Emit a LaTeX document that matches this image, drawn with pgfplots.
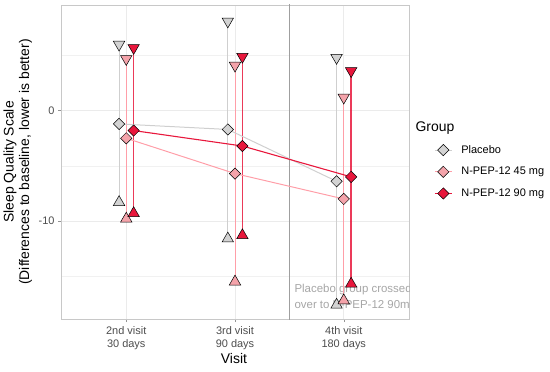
\documentclass[border=0pt]{standalone}
\usepackage{pgfplots}
\pgfplotsset{compat=1.18}
\usepackage{fontspec}
\setmainfont{Liberation Sans}
\definecolor{cpl}{HTML}{D3D3D3}
\definecolor{cplline}{HTML}{CFCFCF}
\definecolor{c45}{HTML}{F4A3AA}
\definecolor{c45line}{HTML}{FF9EA8}
\definecolor{c90}{HTML}{E8173C}
\definecolor{gridc}{HTML}{EBEBEB}
\definecolor{tickc}{HTML}{4D4D4D}
\definecolor{framec}{HTML}{C8C8C8}
\begin{document}
\begin{tikzpicture}[x=1bp,y=1bp]
\path[use as bounding box] (0,0) rectangle (550,371);
\begin{axis}[
  at={(61bp,52bp)}, anchor=south west,
  width=348bp, height=314bp, scale only axis,
  xmin=0.4, xmax=3.6, ymin=-18.88, ymax=9.58,
  xtick={1,2,3},
  xticklabels={{2nd visit\\30 days},{3rd visit\\90 days},{4th visit\\180 days}},
  ytick={-10,0}, yticklabels={{\mbox{-10}},{\mbox{0}}}, minor ytick={-15,-5,5},
  xticklabel style={align=center, text=tickc, font=\fontsize{11}{12.5}\selectfont, yshift=-1.5bp},
  yticklabel style={text=tickc, font=\fontsize{11}{12.5}\selectfont},
  grid=both,
  major grid style={gridc, line width=0.6bp},
  minor grid style={gridc!70, line width=0.4bp},
  axis line style={framec, line width=0.8bp},
  tick align=outside, tick pos=left,
  major tick length=3bp, minor tick length=0pt,
  tick style={tickc!60, line width=0.5bp},
  xlabel={Visit},
  xlabel style={at={(axis description cs:0.497,-0.127)}, anchor=center, font=\fontsize{14}{16}\selectfont},
  ylabel={Sleep Quality Scale\\(Differences to baseline, lower is better)},
  ylabel style={at={(axis description cs:-0.124,0.5)}, anchor=center, align=center, font=\fontsize{14}{15.5}\selectfont},
  unbounded coords=jump,
  legend style={at={(axis description cs:1.072,0.56)}, anchor=north west, draw=none, fill=none,
    font=\fontsize{11}{13}\selectfont, row sep=8.5bp, inner sep=0pt,
    /tikz/every odd column/.append style={column sep=7bp}},
  legend cell align=left,
  clip=true,
]
% treatment switch line
\addplot[forget plot, gray!75, line width=1bp] coordinates {(2.5,-30) (2.5,30)};
\node[anchor=west, align=left, text=gray!70, font=\fontsize{11.5}{16.5}\selectfont] at (axis cs:2.515,-16.95) {Placebo group crossed\\over to N-PEP-12 90mg};
% vertical ranges
\addplot[forget plot, cplline, line width=0.8bp] coordinates {(0.934,6.0) (0.934,-8.3) (0.934,nan) (1.934,8.1) (1.934,-11.6) (1.934,nan) (2.934,4.8) (2.934,-17.6)};
\addplot[forget plot, c45line, line width=0.8bp] coordinates {(1,4.7) (1,-9.8) (1,nan) (2,4.1) (2,-15.5) (2,nan) (3,1.2) (3,-17.2)};
\addplot[forget plot, c90, opacity=0.85, line width=1.6bp] coordinates {(1.068,5.7) (1.068,-9.3) (1.068,nan) (2.068,4.9) (2.068,-11.3) (2.068,nan) (3.068,3.6) (3.068,-15.7)};
% upper (down triangles)
\addplot[forget plot, only marks, mark=triangle*, mark size=6.6bp, mark options={rotate=180, draw=black, fill=cpl, line width=0.5bp}] coordinates {(0.934,6.0) (1.934,8.1) (2.934,4.8)};
\addplot[forget plot, only marks, mark=triangle*, mark size=6.6bp, mark options={rotate=180, draw=black, fill=c45, line width=0.5bp}] coordinates {(1,4.7) (2,4.1) (3,1.2)};
\addplot[forget plot, only marks, mark=triangle*, mark size=6.6bp, mark options={rotate=180, draw=black, fill=c90, line width=0.5bp}] coordinates {(1.068,5.7) (2.068,4.9) (3.068,3.6)};
% lower (up triangles)
\addplot[forget plot, only marks, mark=triangle*, mark size=6.6bp, mark options={draw=black, fill=cpl, line width=0.5bp}] coordinates {(0.934,-8.3) (1.934,-11.6) (2.934,-17.6)};
\addplot[forget plot, only marks, mark=triangle*, mark size=6.6bp, mark options={draw=black, fill=c45, line width=0.5bp}] coordinates {(1,-9.8) (2,-15.5) (3,-17.2)};
\addplot[forget plot, only marks, mark=triangle*, mark size=6.6bp, mark options={draw=black, fill=c90, line width=0.5bp}] coordinates {(1.068,-9.3) (2.068,-11.3) (3.068,-15.7)};
% means
\addplot[cplline, line width=1bp, mark=square*, mark size=4bp, mark options={rotate=45, draw=black, fill=cpl, line width=0.5bp}] coordinates {(0.934,-1.2) (1.934,-1.7) (2.934,-6.4)};
\addlegendentry{Placebo}
\addplot[c45line, line width=1bp, mark=square*, mark size=4bp, mark options={rotate=45, draw=black, fill=c45, line width=0.5bp}] coordinates {(1,-2.5) (2,-5.7) (3,-8.0)};
\addlegendentry{N-PEP-12 45 mg}
\addplot[c90, line width=1.1bp, mark=square*, mark size=4bp, mark options={rotate=45, draw=black, fill=c90, line width=0.5bp}] coordinates {(1.068,-1.8) (2.068,-3.2) (3.068,-6.0)};
\addlegendentry{N-PEP-12 90 mg}
\end{axis}
\node[anchor=west, font=\fontsize{14}{16}\selectfont] at (412,371-128) {Group};
\end{tikzpicture}
\end{document}
